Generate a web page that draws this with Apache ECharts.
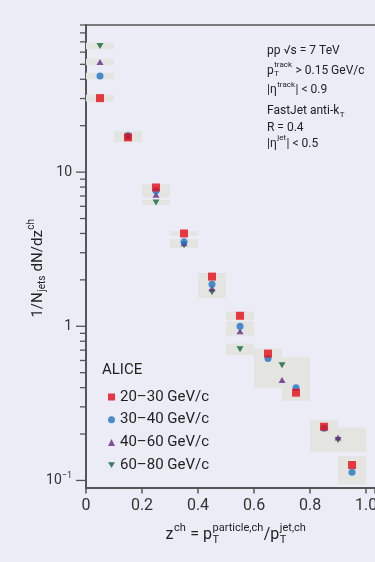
<!DOCTYPE html>
<html><head><meta charset="utf-8">
<script src="https://cdn.jsdelivr.net/npm/echarts@6/dist/echarts.min.js"></script>
<style>html,body{margin:0;padding:0;background:#ECECF6;}#c{width:375px;height:562px;}</style>
</head><body><div id="c"></div>
<script>
// ---------------- data ----------------
const zCenters = [0.05, 0.15, 0.25, 0.35, 0.45, 0.55, 0.65, 0.75, 0.85, 0.95];
const zHalfWidths = [0.05, 0.05, 0.05, 0.05, 0.05, 0.05, 0.05, 0.05, 0.05, 0.05];
const zCentersWide = [0.05, 0.15, 0.25, 0.35, 0.45, 0.55, 0.7, 0.9];
const zHalfWidthsWide = [0.05, 0.05, 0.05, 0.05, 0.05, 0.05, 0.1, 0.1];

const pt2030 = [30.2, 16.8, 7.95, 4.0, 2.10, 1.17, 0.665, 0.371, 0.223, 0.126];
const pt3040 = [42.0, 17.3, 7.56, 3.53, 1.87, 1.00, 0.617, 0.400, 0.218, 0.113];
const pt4060 = [51.8, 17.0, 7.13, 3.45, 1.76, 0.93, 0.448, 0.190];
const pt6080 = [65.8, 16.9, 6.36, 3.36, 1.66, 0.71, 0.558, 0.183];

// relative systematic uncertainties (shaded boxes)
const sys2030 = [0.05, 0.07, 0.045, 0.033, 0.05, 0.066, 0.077, 0.127, 0.11, 0.145];
const sys3040 = [0.05, 0.07, 0.045, 0.045, 0.078, 0.078, 0.11, 0.127, 0.11, 0.2];
const sys4060 = [0.05, 0.07, 0.04, 0.045, 0.078, 0.066, 0.127, 0.16];
const sys6080 = [0.05, 0.07, 0.038, 0.045, 0.089, 0.09, 0.127, 0.2];

const seriesNames = ['20–30 GeV/c', '30–40 GeV/c', '40–60 GeV/c', '60–80 GeV/c'];
const xTickLabels = ['0', '0.2', '0.4', '0.6', '0.8', '1.0'];
const yMajorTicks = [0.1, 1, 10];
const yTickLabels = ['10{sup|−1}', '1', '10'];

// ---------------- helpers ----------------
const FONT = 'Roboto, "Noto Sans", sans-serif';
const TXT = '#222';
const mctx = document.createElement('canvas').getContext('2d');
function tw(t, f) { mctx.font = f + 'px ' + FONT; return mctx.measureText(t).width; }
function tEl(t, x, y, f) {
  return { type: 'text', x: x, y: y, style: { text: t, font: f + 'px ' + FONT, fill: TXT, align: 'left', verticalAlign: 'middle' } };
}
function mathLine(segs, main, scr, gx, gy, center, rot) {
  let x = 0; const ch = [];
  for (const s of segs) {
    if (typeof s === 'string') { ch.push(tEl(s, x, 0, main)); x += tw(s, main); }
    else {
      let w = 0;
      if (s.sup != null) { ch.push(tEl(s.sup, x + 0.5, -main * 0.45, scr)); w = Math.max(w, tw(s.sup, scr)); }
      if (s.sub != null) { ch.push(tEl(s.sub, x + 0.5, main * 0.3, scr)); w = Math.max(w, tw(s.sub, scr)); }
      x += w + 1;
    }
  }
  if (center) ch.forEach(c => { c.x -= x / 2; });
  return { type: 'group', x: gx, y: gy, rotation: rot || 0, children: ch };
}

// ---------------- build series data ----------------
function boxes(xs, hws, ys, es) {
  return ys.map((y, i) => [xs[i], y / (1 + es[i]), y * (1 + es[i]), hws[i]]);
}
const boxData = [].concat(
  boxes(zCenters, zHalfWidths, pt2030, sys2030),
  boxes(zCenters, zHalfWidths, pt3040, sys3040),
  boxes(zCentersWide, zHalfWidthsWide, pt4060, sys4060),
  boxes(zCentersWide, zHalfWidthsWide, pt6080, sys6080)
);
const yTickData = [];
for (let e = -1; e <= 1; e++) {
  for (let m = 1; m <= 9; m++) {
    const v = m * Math.pow(10, e);
    yTickData.push([0, v, m === 1 ? 1 : 0]);
  }
}

const COL = { r: '#E60A18', b: '#1F74C4', p: '#66288A', g: '#126636' };
const BOX = '#E4E4E1';

const chart = echarts.init(document.getElementById('c'), null, { renderer: 'canvas' });
chart.setOption({
  animation: false,
  backgroundColor: '#ECECF6',
  grid: { left: 86, right: 0, top: 25, bottom: 74.5, containLabel: false, outerBoundsMode: 'none' },
  xAxis: [{
    type: 'value', min: 0, max: 1.032, interval: 0.2,
    axisLine: { show: true, onZero: false, lineStyle: { color: '#555', width: 2 } },
    axisTick: { show: true, length: 6, lineStyle: { color: '#555', width: 1.5 } },
    axisLabel: {
      margin: 10, fontSize: 16, fontFamily: FONT, color: '#333',
      formatter: v => { const i = Math.round(v / 0.2); return Math.abs(v - i * 0.2) < 1e-6 ? (xTickLabels[i] || '') : ''; }
    },
    splitLine: { show: false }
  }, {
    type: 'value', position: 'top', min: 0, max: 1.032,
    axisLine: { show: true, lineStyle: { color: '#555', width: 1.5 } },
    axisTick: { show: false }, axisLabel: { show: false }, splitLine: { show: false }
  }],
  yAxis: {
    type: 'log', logBase: 10, min: 0.09, max: 90,
    axisLine: { show: true, lineStyle: { color: '#555', width: 2 } },
    axisTick: { show: false },
    splitLine: { show: false },
    axisLabel: {
      margin: 14, fontSize: 14, fontFamily: FONT, color: '#333', showMinLabel: false, showMaxLabel: false,
      formatter: v => {
        for (let i = 0; i < yMajorTicks.length; i++) if (Math.abs(Math.log10(v) - Math.log10(yMajorTicks[i])) < 1e-6) return yTickLabels[i];
        return '';
      },
      rich: { sup: { fontSize: 9, fontFamily: FONT, color: '#333', verticalAlign: 'top', lineHeight: 18 } }
    }
  },
  legend: {
    data: seriesNames, orient: 'vertical', left: 103, top: 384.5,
    itemWidth: 7, itemHeight: 7, itemGap: 7.7, selectedMode: false,
    textStyle: { fontFamily: FONT, fontSize: 15, color: TXT }
  },
  graphic: [
    { type: 'text', x: 102, y: 370, style: { text: 'ALICE', font: '15px ' + FONT, fill: TXT, verticalAlign: 'middle' } },
    mathLine(['pp √s = 7 TeV'], 12, 8, 267, 51, false),
    mathLine(['p', { sup: 'track', sub: 'T' }, ' > 0.15 GeV/c'], 12, 8, 267, 70.5, false),
    mathLine(['|η', { sup: 'track' }, '| < 0.9'], 12, 8, 267, 90, false),
    mathLine(['FastJet anti-k', { sub: 'T' }], 12, 8, 267, 111, false),
    mathLine(['R = 0.4'], 12, 8, 267, 127.5, false),
    mathLine(['|η', { sup: 'jet' }, '| < 0.5'], 12, 8, 267, 143.5, false),
    mathLine(['z', { sup: 'ch' }, ' = p', { sup: 'particle,ch', sub: 'T' }, '/p', { sup: 'jet,ch', sub: 'T' }], 16, 11, 236, 535, true),
    mathLine(['1/N', { sub: 'jets' }, ' dN/dz', { sup: 'ch' }], 15, 10, 38, 268, true, Math.PI / 2)
  ],
  series: [
    {
      type: 'custom', name: 'sys', z: 1, clip: true, data: boxData,
      encode: { x: 0, y: [1, 2] },
      renderItem: (params, api) => {
        const x = api.value(0), lo = api.value(1), hi = api.value(2), hw = api.value(3);
        const p1 = api.coord([x - hw, hi]), p2 = api.coord([x + hw, lo]);
        return { type: 'rect', shape: { x: p1[0], y: p1[1], width: p2[0] - p1[0], height: p2[1] - p1[1] }, style: { fill: BOX } };
      }
    },
    {
      type: 'custom', name: 'yticks', z: 5, clip: false, data: yTickData, silent: true,
      encode: { x: 0, y: 1 },
      renderItem: (params, api) => {
        const p = api.coord([api.value(0), api.value(1)]);
        const len = api.value(2) ? 10 : 6;
        return { type: 'line', shape: { x1: p[0] - len, y1: p[1], x2: p[0], y2: p[1] }, style: { stroke: '#555', lineWidth: 1.3 } };
      }
    },
    { type: 'scatter', name: seriesNames[3], z: 3, symbol: 'path://M0,0L10,0L5,8.5Z', symbolSize: [7, 6], itemStyle: { color: COL.g },
      data: zCentersWide.map((x, i) => [x, pt6080[i]]) },
    { type: 'scatter', name: seriesNames[2], z: 3, symbol: 'triangle', symbolSize: [7, 6], itemStyle: { color: COL.p },
      data: zCentersWide.map((x, i) => [x, pt4060[i]]) },
    { type: 'scatter', name: seriesNames[1], z: 3, symbol: 'circle', symbolSize: 7, itemStyle: { color: COL.b },
      data: zCenters.map((x, i) => [x, pt3040[i]]) },
    { type: 'scatter', name: seriesNames[0], z: 3, symbol: 'rect', symbolSize: 8, itemStyle: { color: COL.r },
      data: zCenters.map((x, i) => [x, pt2030[i]]) }
  ]
});
</script></body></html>
